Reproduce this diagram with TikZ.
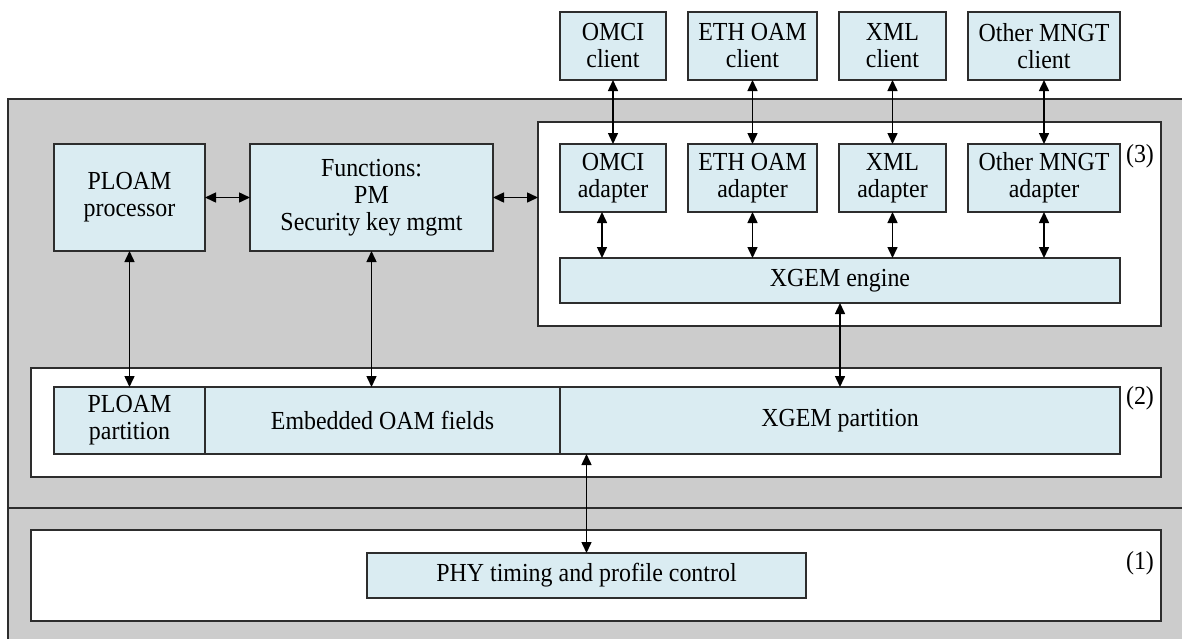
\documentclass[tikz,border=0pt]{standalone}
\usepackage{fontspec}
\setmainfont{Liberation Serif}[FakeStretch=0.92]
\usetikzlibrary{arrows.meta}
\definecolor{boxblue}{RGB}{218,236,242}
\definecolor{bggray}{RGB}{204,204,204}
\definecolor{edge}{RGB}{45,45,45}
\begin{document}
\begin{tikzpicture}[x=1pt,y=-1pt,
  blk/.style={draw=edge, line width=1.4pt, fill=boxblue, inner sep=0pt, outer sep=0pt, align=center,
    font=\fontsize{26}{27}\selectfont},
  frame/.style={draw=edge, line width=1.5pt, fill=white, inner sep=0pt, outer sep=0pt, anchor=north west},
  area/.style={draw=edge, line width=1.5pt, fill=bggray, inner sep=0pt, outer sep=0pt, anchor=north west},
  conn/.style={line width=1.5pt, {Triangle[length=11pt,width=10pt]}-{Triangle[length=11pt,width=10pt]}},
  lbl/.style={font=\fontsize{26}{27}\selectfont, inner sep=0pt}]
\useasboundingbox (0,0) rectangle (1182,638);
% background areas
\node[area, minimum width=1180pt, minimum height=409pt] (upper) at (8,99) {};
\node[area, minimum width=1180pt, minimum height=140pt] (lower) at (8,508) {};
% frames
\node[frame, minimum width=623pt, minimum height=204pt] (box3) at (538,122) {};
\node[frame, minimum width=1130pt, minimum height=109pt] (box2) at (31,368) {};
\node[frame, minimum width=1130pt, minimum height=91pt] (box1) at (31,530) {};
\node[lbl] (l3) at (1140,156) {(3)};
\node[lbl] (l2) at (1140,398) {(2)};
\node[lbl] (l1) at (1140,563) {(1)};
% upper left blocks
\node[blk, minimum width=151pt, minimum height=107pt] (ploam) at (129.5,197.5) {PLOAM\\processor};
\node[blk, minimum width=243pt, minimum height=107pt] (func) at (371.5,197.5) {Functions:\\PM\\Security key mgmt};
% clients
\node[blk, minimum width=106pt, minimum height=68pt] (omcic) at (613,46) {OMCI\\client};
\node[blk, minimum width=129pt, minimum height=68pt] (ethc) at (752.5,46) {ETH OAM\\client};
\node[blk, minimum width=107pt, minimum height=68pt] (xmlc) at (892.5,46) {XML\\client};
\node[blk, minimum width=152pt, minimum height=68pt] (othc) at (1044,46) {Other MNGT\\client};
% adapters
\node[blk, minimum width=106pt, minimum height=68pt] (omcia) at (613,178) {OMCI\\adapter};
\node[blk, minimum width=129pt, minimum height=68pt] (etha) at (752.5,178) {ETH OAM\\adapter};
\node[blk, minimum width=107pt, minimum height=68pt] (xmla) at (892.5,178) {XML\\adapter};
\node[blk, minimum width=152pt, minimum height=68pt] (otha) at (1044,178) {Other MNGT\\adapter};
\node[blk, minimum width=560pt, minimum height=45pt] (engine) at (840,280.5) {XGEM engine};
% partitions
\node[blk, minimum width=151pt, minimum height=67pt] (ploamp) at (129.5,420.5) {PLOAM\\partition};
\node[blk, minimum width=355pt, minimum height=67pt] (emb) at (382.5,420.5) {Embedded OAM fields};
\node[blk, minimum width=560pt, minimum height=67pt] (xgemp) at (840,420.5) {XGEM partition};
% PHY
\node[blk, minimum width=439pt, minimum height=45pt] (phy) at (586.5,575.5) {PHY timing and profile control};
% connectors
\draw[conn] (ploam.east) -- (func.west);
\draw[conn] (func.east) -- (func.east -| box3.west);
\draw[conn] (omcic.south) -- (omcia.north);
\draw[conn] (ethc.south) -- (etha.north);
\draw[conn] (xmlc.south) -- (xmla.north);
\draw[conn] (othc.south) -- (otha.north);
\draw[conn] ([xshift=-11pt]omcia.south) -- ([xshift=-11pt]omcia.south |- engine.north);
\draw[conn] (etha.south) -- (etha.south |- engine.north);
\draw[conn] (xmla.south) -- (xmla.south |- engine.north);
\draw[conn] (otha.south) -- (otha.south |- engine.north);
\draw[conn] (engine.south) -- (xgemp.north);
\draw[conn] (ploam.south) -- (ploamp.north);
\draw[conn] (func.south) -- (func.south |- emb.north);
\draw[conn] (phy.north |- xgemp.south) -- (phy.north);
\end{tikzpicture}
\end{document}
